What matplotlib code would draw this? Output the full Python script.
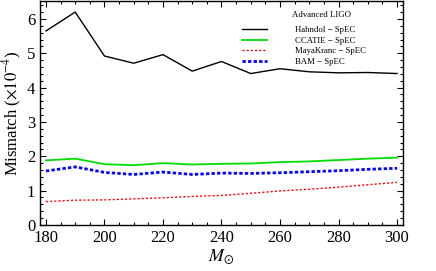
import numpy as np
import matplotlib.pyplot as plt
from matplotlib.ticker import MultipleLocator
from matplotlib.lines import Line2D

plt.rcParams['font.family'] = ['Liberation Serif', 'DejaVu Serif']
plt.rcParams['mathtext.fontset'] = 'stix'

# ---- data (mismatch, x1e-4) ----
mass = [180, 190, 200, 210, 220, 230, 240, 250, 260, 270, 280, 290, 300]
hahndol = [5.65, 6.20, 4.92, 4.71, 4.96, 4.48, 4.76, 4.41, 4.55, 4.46, 4.43, 4.44, 4.41]
ccatie = [1.88, 1.93, 1.77, 1.74, 1.80, 1.76, 1.78, 1.79, 1.83, 1.85, 1.89, 1.93, 1.96]
mayakranc = [0.68, 0.72, 0.73, 0.76, 0.79, 0.83, 0.86, 0.92, 0.99, 1.04, 1.10, 1.17, 1.24]
bam = [1.57, 1.69, 1.53, 1.47, 1.54, 1.47, 1.51, 1.50, 1.52, 1.55, 1.58, 1.62, 1.65]

fig = plt.figure(figsize=(4.36, 2.71), dpi=100)
ax = fig.add_axes([0.092, 0.170, 0.832, 0.826])

ax.plot(mass, hahndol, color="black", lw=1.0)
ax.plot(mass, ccatie, color="#00dd00", lw=1.3)
ax.plot(mass, mayakranc, color="red", lw=1.0, ls=(0, (1.5, 1.5)))
ax.plot(mass, bam, color="blue", lw=2.0, ls=(0, (1.2, 0.8)))

ax.set_xlim(178, 302)
ax.set_ylim(0, 6.52)
ax.xaxis.set_major_locator(MultipleLocator(20))
ax.xaxis.set_minor_locator(MultipleLocator(5))
ax.yaxis.set_major_locator(MultipleLocator(1))
ax.yaxis.set_minor_locator(MultipleLocator(0.2))
ax.tick_params(which="both", direction="in", top=True, right=True, labelsize=12, width=0.8)
ax.tick_params(which="major", length=4)
ax.tick_params(which="minor", length=2)
for s in ax.spines.values():
    s.set_linewidth(1.0)

ax.set_xlabel(r"$M_{\odot}$", fontsize=13, labelpad=1)
ax.set_ylabel(r"Mismatch ($\times 10^{-4}$)", fontsize=12, labelpad=2)

# legend (title placed by hand, as in the original)
handles = [
    Line2D([], [], color="black", lw=1.0),
    Line2D([], [], color="#00dd00", lw=1.3),
    Line2D([], [], color="red", lw=1.0, ls=(0, (1.5, 1.5))),
    Line2D([], [], color="blue", lw=2.0, ls=(0, (1.2, 0.8))),
]
labels = ["Hahndol \u2212 SpEC", "CCATIE \u2212 SpEC", "MayaKranc \u2212 SpEC", "BAM \u2212 SpEC"]
leg = ax.legend(handles, labels, loc="upper left",
                bbox_to_anchor=(0.555, 0.905), bbox_transform=fig.transFigure,
                borderaxespad=0, borderpad=0,
                fontsize=6.3, frameon=False, handlelength=2.85, handletextpad=3.2,
                labelspacing=0.3)
fig.text(0.670, 0.945, "Advanced LIGO", fontsize=6.3, ha="left", va="center")

fig.savefig("out.png", dpi=100)
